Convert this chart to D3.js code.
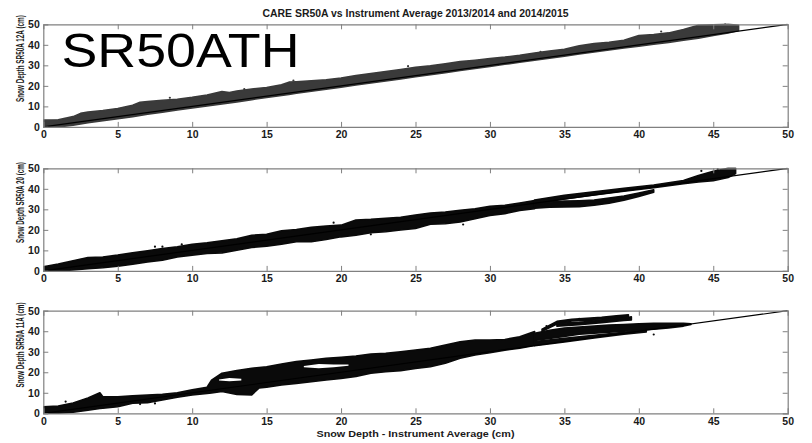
<!DOCTYPE html>
<html><head><meta charset="utf-8">
<script src="https://cdn.jsdelivr.net/npm/d3@7"></script>
<style>body{margin:0;background:#fff}svg{display:block}text{font-family:"Liberation Sans",Arial,sans-serif}</style>
</head><body><div id="chart"></div>
<script>
// ---- data ----
const chartTitle = "CARE SR50A vs Instrument Average 2013/2014 and 2014/2015";
const xTitle = "Snow Depth - Instrument Average (cm)";
const yTitles = ["Snow Depth SR50A 12A (cm)", "Snow Depth SR50A 20 (cm)", "Snow Depth SR50A 11A (cm)"];
const xTicks = [0, 5, 10, 15, 20, 25, 30, 35, 40, 45, 50];
const yTicks = [0, 10, 20, 30, 40, 50];
const oneToOne = [[0, 0], [50, 50]];

// panel 1 (12A): dense point cloud, envelope [x, low, high]
const cloud12A = [
  [[0,0,3.3],[1,0,3.5],[2,0.8,5],[2.5,1.4,6.6],[3,2,7.2],[4,3,8],[5,4,9],[6,5,10.5],[6.5,5.6,12],[7,6.2,12.3],[8,7.2,13],[9,8.2,13.5],
   [10,9.2,14.4],[11,10.2,15.5],[12,11.2,17.2],[12.5,11.7,16.8],[13,12.2,17.5],[14,13.3,18.5],[15,14.3,19.2],[16,15.3,20.5],
   [16.5,15.8,21.8],[17,16.4,22],[18,17.4,22.5],[19,18.4,23],[20,19.4,23.8],[21,20.4,25],[22,21.4,26],[23,22.4,27],[24,23.4,28],
   [25,24.4,29],[26,25.4,29.8],[27,26.4,30.8],[28,27.5,31.8],[29,28.5,32.5],[30,29.5,33.3],[31,30.5,34],
   [32,31.5,34.9],[33,32.5,36],[34,33.5,37],[35,34.5,37.8],[36,35.5,39.5],[37,36.5,40.6],[38,37.5,41.2],
   [39,38.5,42.2],[40,39.3,44.5],[41,40.3,45],[42,41.2,45.8],[43,42.2,47.5],[44,43.2,49.5],[45,44.5,49.8],
   [46,45.8,50],[46.7,47,49.5]]
];
const points12A = [[8.5,14.2],[13.5,18.4],[16.8,22.6],[24.5,29.6],[33.4,36.6],[41.5,46.5],[45.8,50]];

// panel 2 (20)
const cloud20 = [
  [[0,0,2],[1,0,3.3],[2,0.5,4.9],[3,1.1,6.5],[4,1.5,6.8],[5,2.3,7.7],[6,3.3,8.8],[7,4.4,9.8],[8,5.2,10.9],
   [9,6.8,11.7],[10,7.7,13],[11,8.5,13.7],[12,8.8,14.7],[13,10.1,15.6],[14,11.4,17.4],[15,12,17.8],[16,13,19.5],
   [17,14.2,20.2],[18,14.2,21.2],[19,15.3,21.8],[20,16.6,22.3],[21,17.4,24.8],[22,18.6,25.1],[23,19.1,25.6],
   [24,19.9,26.1],[25,20.7,27.2],[26,22.7,28.2],[27,23,28.7],[28,23.8,29.5],[29,25.4,30.3],[30,27,31.5],
   [31,27.9,32],[32,29.5,33.1],[33,30.3,34.3]],
  [[33,32.6,34.5],[35,35,36.9],[37,37,38.5],[39,38.8,40.3],[41,40.5,41.8],[43,42.5,44],[44,43.3,46.5],
   [45,44,48.5],[46,45.5,50],[46.5,47.5,50]],
  [[33,30.5,32.5],[34,31,33.5],[35,31.2,34],[36,31.3,34.2],[37,32,34.5],[38,33,35.5],[39,34.5,36.5],
   [40,36.3,38],[41,38.3,39.5]]
];
const points20 = [[7.5,11.8],[8,11.8],[9.3,12.9],[19.5,23.5],[22,17.8],[28.2,22.6],[44.2,48.7],[45.3,49.5]];

// panel 3 (11A)
const cloud11A = [
  [[0,0,3.2],[1,0,3.5],[2,0.5,5],[3,1.5,7.5],[3.8,2.3,10],[4,2.5,8.1],[5,3.2,8.1],[6,4.9,8.5],[7,5.2,8.9],
   [8,6.5,9.3],[9,7.8,10],[10,8.9,11.4],[11,9.7,12.7],[11.3,9.9,16.2],[12,10.6,19.5],[13,9.2,20.8],[14,9,21.9],
   [14.5,12.4,22.3],[15,12.7,22.7],[16,13.8,24],[17,14.6,25.2],[18,15.4,26],[19,16.2,26.8],[20,17,27.3],
   [21,17.9,27.9],[22,19.5,28.9],[23,20.3,29.2],[24,20.8,30],[25,21.9,30.8],[26,22.7,31.7],[27,24.4,33.3],
   [28,26.8,34.9],[29,28.4,35.7],[30,29.5,35.7],[31,30.8,36],[32,31.7,37.3],[33,33,39.8]],
  [[33.5,40,41],[34.5,43.5,44.8],[35.5,45,45.8],[36.5,45.3,46.3],[37.5,45.6,46.8],[38.5,46.2,47.5],[39.3,46.5,48]],
  [[34.5,42.5,43.8],[36,43.2,44.3],[37.5,44.2,45.3],[39,45.2,46.3],[39.5,45.5,47]],
  [[33,35.5,39],[34,36.5,40.5],[35,37.5,41.5],[36,38.5,42],[37,39,42.5],[38,39.5,43],[39,40,43.3],
   [40,40.5,43.6],[41,41,43.8],[42,41.6,43.8],[43,42.5,43.8],[43.5,43.3,43.6]],
  [[33,33,35],[35,34.8,36.5],[37,36.7,38],[39,38.6,39.5],[40.5,39.6,40.8]]
];
const points11A = [[1.5,5.7],[6.5,4.5],[7.5,4.8],[36,46],[37,46.2],[33.8,42.5],[41,38.4]];
// white gaps inside the 11A cloud
const gaps11A = [
  [[11.8,16,16.5],[12.5,15.6,17.2],[13.3,16,16.8]],
  [[17.5,22.4,23],[18.5,22,24],[19.5,22.5,23.8],[20.5,23.2,23.8]]
];

const panels = [
  {top: 24.3, yTitle: yTitles[0], titleLen: 87, clouds: cloud12A, pts: points12A, gaps: [], color: "#3a3a3a"},
  {top: 168.3, yTitle: yTitles[1], titleLen: 81, clouds: cloud20, pts: points20, gaps: [], color: "#0a0a0a"},
  {top: 310.7, yTitle: yTitles[2], titleLen: 85, clouds: cloud11A, pts: points11A, gaps: gaps11A, color: "#0a0a0a"}
];

// ---- layout ----
const W = 812, H = 443;
const left = 43.3, right = 787.7, ph = 102.6;
const axisColor = "#808080";

const svg = d3.select("#chart").append("svg").attr("width", W).attr("height", H);
svg.append("rect").attr("width", W).attr("height", H).attr("fill", "#fff");

const x = d3.scaleLinear().domain([0, 50]).range([left, right]);

svg.append("text").attr("x", (left + right) / 2).attr("y", 16.5).attr("text-anchor", "middle")
  .attr("font-size", 10.5).attr("font-weight", "bold").attr("fill", "#1a1a1a")
  .attr("textLength", 306).attr("lengthAdjust", "spacingAndGlyphs").text(chartTitle);

panels.forEach((p, i) => {
  const y = d3.scaleLinear().domain([0, 50]).range([p.top + ph, p.top]);
  const g = svg.append("g");
  const clipId = "clip" + i;
  g.append("clipPath").attr("id", clipId).append("rect")
    .attr("x", left).attr("y", p.top - 1).attr("width", right - left).attr("height", ph + 2);
  const plot = g.append("g").attr("clip-path", `url(#${clipId})`);

  const area = d3.area().x(d => x(d[0])).y0(d => y(d[1])).y1(d => y(d[2]));
  plot.selectAll("path.cloud").data(p.clouds).join("path").attr("class", "cloud")
    .attr("d", area).attr("fill", p.color).attr("stroke", p.color).attr("stroke-width", 1.6)
    .attr("stroke-linejoin", "round");
  plot.selectAll("path.gap").data(p.gaps).join("path").attr("class", "gap")
    .attr("d", area).attr("fill", "#fff");
  plot.selectAll("circle").data(p.pts).join("circle")
    .attr("cx", d => x(d[0])).attr("cy", d => y(d[1])).attr("r", 1.1).attr("fill", p.color);
  plot.append("path").datum(oneToOne)
    .attr("d", d3.line().x(d => x(d[0])).y(d => y(d[1])))
    .attr("stroke", "#000").attr("stroke-width", 1.2).attr("fill", "none");

  // axes box with inward ticks on all four sides
  const tl = 5;
  const bottom = g.append("g").attr("transform", `translate(0,${p.top + ph})`)
    .call(d3.axisBottom(x).tickValues(xTicks).tickSize(-tl).tickPadding(3).tickFormat(d3.format("d")));
  const top = g.append("g").attr("transform", `translate(0,${p.top})`)
    .call(d3.axisTop(x).tickValues(xTicks).tickSize(-tl).tickFormat(""));
  const leftAx = g.append("g").attr("transform", `translate(${left},0)`)
    .call(d3.axisLeft(y).tickValues(yTicks).tickSize(-tl).tickPadding(3.5).tickFormat(d3.format("d")));
  const rightAx = g.append("g").attr("transform", `translate(${right},0)`)
    .call(d3.axisRight(y).tickValues(yTicks).tickSize(-tl).tickFormat(""));
  [bottom, top, leftAx, rightAx].forEach(a => {
    a.select(".domain").attr("stroke", axisColor).attr("stroke-width", 1.2);
    a.selectAll(".tick line").attr("stroke", axisColor);
    a.selectAll("text").attr("font-size", 10.5).attr("font-weight", "bold")
      .attr("fill", "#1a1a1a").attr("font-family", "'Liberation Sans', Arial, sans-serif");
  });
  bottom.selectAll(".tick text").attr("dy", null).attr("y", 11.5).attr("dominant-baseline", "auto");
  [bottom, top, leftAx, rightAx].forEach(a => a.selectAll(".tick line").filter(d => d === 0 || d === 50).remove());

  // rotated, condensed y title (squeezed along its length with a scale)
  const cy = p.top + ph / 2 - 17;
  const yt = g.append("text").attr("text-anchor", "middle")
    .attr("font-size", 10.5).attr("font-weight", "bold").attr("fill", "#1a1a1a").text(p.yTitle);
  const natural = yt.node().getComputedTextLength() || 140;
  yt.attr("transform", `translate(24,${cy}) rotate(-90) scale(${p.titleLen / natural},1)`);
});

svg.append("text").attr("x", (left + right) / 2).attr("y", 436.5).attr("text-anchor", "middle")
  .attr("font-size", 9.5).attr("font-weight", "bold").attr("fill", "#1a1a1a")
  .attr("textLength", 198).attr("lengthAdjust", "spacingAndGlyphs").text(xTitle);

svg.append("text").attr("x", 61.5).attr("y", 66.7).attr("font-size", 49).attr("fill", "#000")
  .attr("textLength", 238).attr("lengthAdjust", "spacingAndGlyphs").text("SR50ATH");
</script></body></html>
